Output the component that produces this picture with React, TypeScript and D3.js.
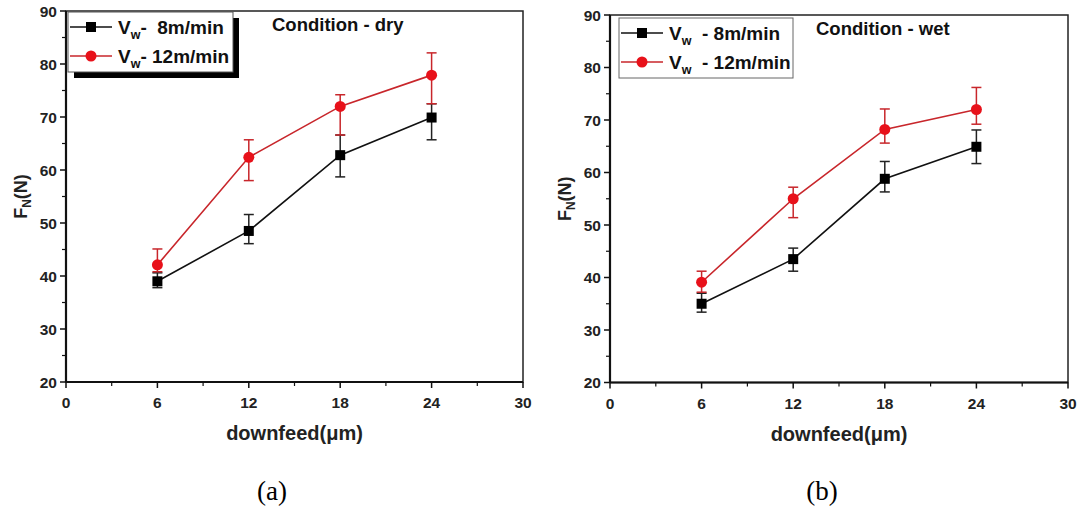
import React from "react";
import * as d3 from "d3";

const downfeed = [6, 12, 18, 24];
const xTicks = [0, 6, 12, 18, 24, 30];
const yTicks = [20, 30, 40, 50, 60, 70, 80, 90];

// dry condition
const dry8 = [39, 48.5, 62.8, 69.9];
const dry8Low = [37.8, 46.1, 58.7, 65.7];
const dry8High = [40.6, 51.6, 66.6, 72.5];
const dry12 = [42.1, 62.4, 72, 77.9];
const dry12Low = [40.8, 58, 66.6, 72.5];
const dry12High = [45.1, 65.7, 74.2, 82.1];

// wet condition
const wet8 = [35, 43.5, 58.8, 64.9];
const wet8Low = [33.4, 41.2, 56.3, 61.7];
const wet8High = [37, 45.6, 62.1, 68.1];
const wet12 = [39.1, 55, 68.2, 72];
const wet12Low = [37.2, 51.4, 65.6, 69.2];
const wet12High = [41.2, 57.2, 72.1, 76.2];

const F = "'Liberation Sans', Arial, sans-serif";
const RED = "#e8111a";
const RED_ERR = "#c8262b";

type Series = { v: number[]; lo: number[]; hi: number[]; color: string; err: string; marker: "sq" | "ci" };

function Marker({ x, y, kind, color }: { x: number; y: number; kind: "sq" | "ci"; color: string }) {
  return kind === "sq" ? (
    <rect x={x - 5} y={y - 5} width={10} height={10} fill={color} />
  ) : (
    <circle cx={x} cy={y} r={5.5} fill={color} />
  );
}

function Panel(props: {
  left: number; right: number; top: number; bottom: number;
  series: Series[]; condition: string; condX: number; condY: number;
  legend: "a" | "b"; label: string; labelX: number;
}) {
  const { left, right, top, bottom, series } = props;
  const x = d3.scaleLinear().domain([0, 30]).range([left, right]);
  const y = d3.scaleLinear().domain([20, 90]).range([bottom, top]);
  const line = d3.line<number>().x((_, i) => x(downfeed[i])).y((d) => y(d));
  const minorX = d3.range(3, 30, 6);
  const minorY = d3.range(25, 90, 10);

  const lg = props.legend;
  const lgBox = lg === "a"
    ? { x: 68, y: 12, w: 165, h: 60 }
    : { x: 619, y: 18, w: 174, h: 60 };
  const rows = lg === "a" ? [27, 56] : [33, 62];
  const lineX0 = lgBox.x + 2;
  const lineX1 = lgBox.x + 44;
  const textX = lgBox.x + 50;

  return (
    <g>
      {/* frame */}
      <rect x={left} y={top} width={right - left} height={bottom - top} fill="none" stroke="#222" strokeWidth={1.5} />
      <line x1={left} x2={left} y1={top} y2={bottom} stroke="#111" strokeWidth={2.2} />
      <line x1={left} x2={right} y1={bottom} y2={bottom} stroke="#111" strokeWidth={2.2} />
      {/* y ticks */}
      {yTicks.map((t) => (
        <g key={"y" + t}>
          <line x1={left - 6} x2={left} y1={y(t)} y2={y(t)} stroke="#111" strokeWidth={1.5} />
          <text x={left - 9} y={y(t) + 5.5} textAnchor="end" fontFamily={F} fontWeight="bold" fontSize={15.5} fill="#222">{t}</text>
        </g>
      ))}
      {minorY.map((t) => (
        <line key={"ym" + t} x1={left - 4} x2={left} y1={y(t)} y2={y(t)} stroke="#111" strokeWidth={1.2} />
      ))}
      {/* x ticks */}
      {xTicks.map((t) => (
        <g key={"x" + t}>
          <line x1={x(t)} x2={x(t)} y1={bottom} y2={bottom + 6} stroke="#111" strokeWidth={1.5} />
          <text x={x(t)} y={bottom + 26} textAnchor="middle" fontFamily={F} fontWeight="bold" fontSize={15.5} fill="#222">{t}</text>
        </g>
      ))}
      {minorX.map((t) => (
        <line key={"xm" + t} x1={x(t)} x2={x(t)} y1={bottom} y2={bottom + 4} stroke="#111" strokeWidth={1.2} />
      ))}
      {/* axis titles */}
      <text x={(left + right) / 2} y={bottom + 58} textAnchor="middle" fontFamily={F} fontWeight="bold" fontSize={20} fill="#222">
        downfeed(μm)
      </text>
      <text transform={`translate(${left - 39},${(top + bottom) / 2}) rotate(-90)`} textAnchor="middle" fontFamily={F} fontWeight="bold" fontSize={18} fill="#222">
        F<tspan fontSize={12} dy={4}>N</tspan><tspan dy={-4}>(N)</tspan>
      </text>
      {/* series */}
      {series.map((s, si) => (
        <g key={"s" + si}>
          <path d={line(s.v) || ""} fill="none" stroke={s.color === RED ? RED_ERR : "#111"} strokeWidth={1.6} />
          {s.v.map((v, i) => (
            <g key={i} stroke={s.err} strokeWidth={1.5}>
              <line x1={x(downfeed[i])} x2={x(downfeed[i])} y1={y(s.lo[i])} y2={y(s.hi[i])} />
              <line x1={x(downfeed[i]) - 5} x2={x(downfeed[i]) + 5} y1={y(s.lo[i])} y2={y(s.lo[i])} />
              <line x1={x(downfeed[i]) - 5} x2={x(downfeed[i]) + 5} y1={y(s.hi[i])} y2={y(s.hi[i])} />
            </g>
          ))}
          {s.v.map((v, i) => (
            <Marker key={"m" + i} x={x(downfeed[i])} y={y(v)} kind={s.marker} color={s.color} />
          ))}
        </g>
      ))}
      {/* legend */}
      {lg === "a" && (
        <rect x={lgBox.x + 6} y={lgBox.y + 6} width={lgBox.w} height={lgBox.h} fill="#000" />
      )}
      <rect x={lgBox.x} y={lgBox.y} width={lgBox.w} height={lgBox.h} fill="#fff" stroke={lg === "a" ? "#555" : "#666"} strokeWidth={1} />
      {series.map((s, si) => (
        <g key={"lg" + si}>
          <line x1={lineX0} x2={lineX1} y1={rows[si]} y2={rows[si]} stroke={s.color === RED ? RED_ERR : "#111"} strokeWidth={1.6} />
          <Marker x={(lineX0 + lineX1) / 2} y={rows[si]} kind={s.marker} color={s.color} />
          <text x={textX} y={rows[si] + 6.5} fontFamily={F} fontWeight="bold" fontSize={19} fill="#111" xmlSpace="preserve">
            V<tspan fontSize={12.5} dy={5}>w</tspan>
            <tspan dy={-5}>{lg === "a" ? (si === 0 ? "-  8m/min" : "- 12m/min") : (si === 0 ? "  - 8m/min" : "  - 12m/min")}</tspan>
          </text>
        </g>
      ))}
      <text x={props.condX} y={props.condY} fontFamily={F} fontWeight="bold" fontSize={18.5} fill="#111">{props.condition}</text>
      <text x={props.labelX} y={500} textAnchor="middle" fontFamily="'Liberation Serif', 'Times New Roman', serif" fontSize={27} fill="#000">{props.label}</text>
    </g>
  );
}

export default function App() {
  const drySeries: Series[] = [
    { v: dry8, lo: dry8Low, hi: dry8High, color: "#000", err: "#222", marker: "sq" },
    { v: dry12, lo: dry12Low, hi: dry12High, color: RED, err: RED_ERR, marker: "ci" },
  ];
  const wetSeries: Series[] = [
    { v: wet8, lo: wet8Low, hi: wet8High, color: "#000", err: "#222", marker: "sq" },
    { v: wet12, lo: wet12Low, hi: wet12High, color: RED, err: RED_ERR, marker: "ci" },
  ];
  return (
    <svg width={1080} height={523} style={{ position: "absolute", left: 0, top: 0, background: "#fff" }}>
      <rect width={1080} height={523} fill="#fff" />
      <Panel left={66} right={523} top={11} bottom={382} series={drySeries} condition="Condition - dry" condX={272} condY={31} legend="a" label="(a)" labelX={272} />
      <Panel left={610} right={1068} top={15} bottom={382.5} series={wetSeries} condition="Condition - wet" condX={816} condY={35} legend="b" label="(b)" labelX={822} />
    </svg>
  );
}
